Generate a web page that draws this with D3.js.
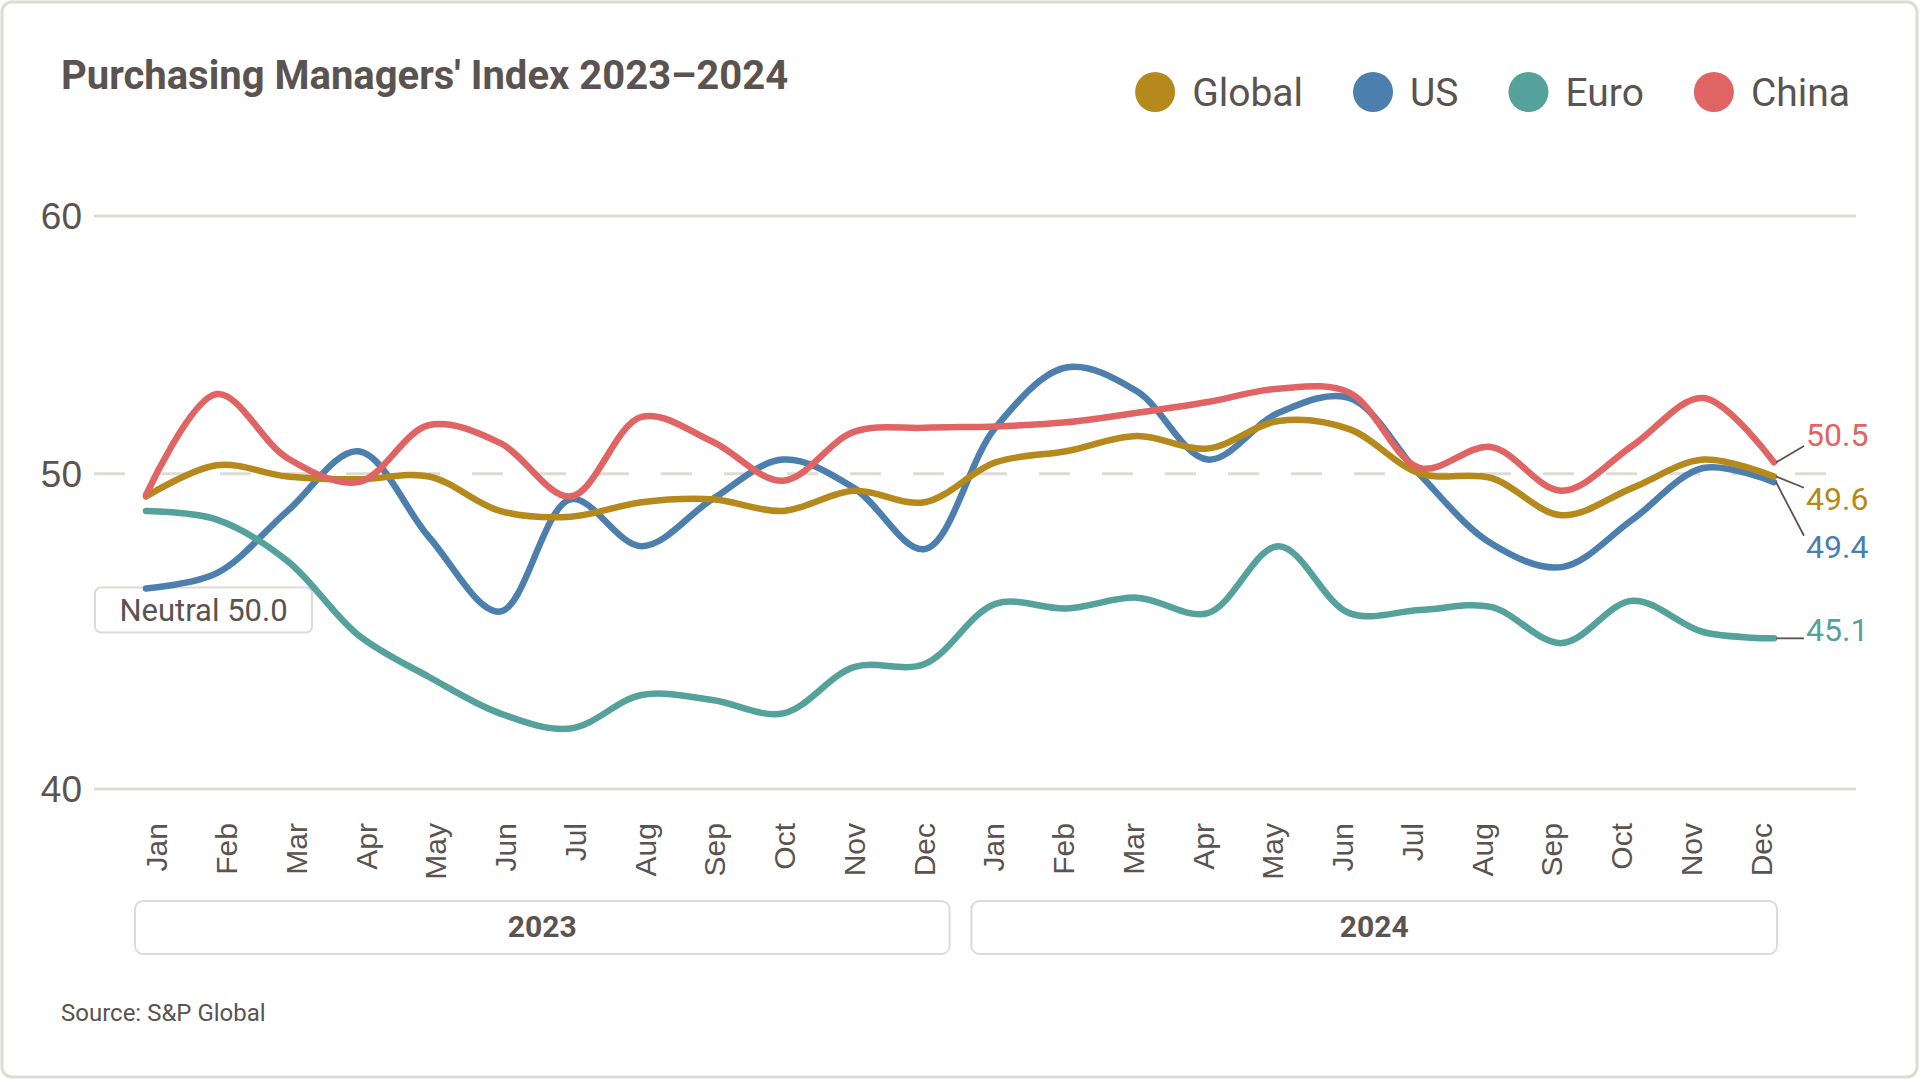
<!DOCTYPE html>
<html><head><meta charset="utf-8">
<script src="https://cdn.jsdelivr.net/npm/d3@7"></script>
<style>
body{margin:0;background:#fff}
svg{display:block}
text{font-family:Roboto, "Noto Sans", sans-serif; fill:#5b5350}
</style>
</head><body>
<svg id="chart" width="1920" height="1080"></svg>
<script>
// ---------- data ----------
const months = ["Jan","Feb","Mar","Apr","May","Jun","Jul","Aug","Sep","Oct","Nov","Dec",
                "Jan","Feb","Mar","Apr","May","Jun","Jul","Aug","Sep","Oct","Nov","Dec"];
const years = ["2023","2024"];
const seriesNames = ["Global","US","Euro","China"];
const seriesColors = ["#b5891c","#4c7fad","#55a19c","#e06464"];
const globalPMI = [49.2,50.3,49.9,49.8,49.9,48.7,48.5,49.0,49.1,48.7,49.4,49.0,
                   50.4,50.8,51.35,50.9,51.9,51.6,50.0,49.85,48.55,49.5,50.5,49.9];
const usPMI     = [46.1,46.6,48.7,50.8,47.8,45.35,49.1,47.5,49.1,50.5,49.5,47.4,
                   51.65,53.9,53.0,50.5,52.2,52.75,49.95,47.6,46.8,48.4,50.2,49.7];
const euroPMI   = [48.7,48.4,47.0,44.6,43.3,42.2,41.75,42.75,42.6,42.2,43.6,43.7,
                   45.6,45.45,45.8,45.3,47.5,45.3,45.4,45.5,44.35,45.7,44.7,44.5];
const chinaPMI  = [49.25,52.9,50.55,49.7,51.75,51.1,49.2,52.05,51.15,49.75,51.5,51.65,
                   51.7,51.85,52.2,52.6,53.1,52.95,50.2,50.95,49.4,51.0,52.75,50.4];
const endLabels = ["49.6","49.4","45.1","50.5"];
const endLabelAt = [49.12,47.48,44.79,51.39];
const yTicks = [40,50,60];
const neutralValue = 50;
const neutralText = "Neutral 50.0";
const titleText = "Purchasing Managers' Index 2023\u20132024";
const sourceText = "Source: S&P Global";

const seriesValues = [globalPMI, usPMI, euroPMI, chinaPMI];
const drawOrder = [1,0,2,3];

// ---------- layout ----------
const svg = d3.select("#chart");
const TEXT = "#5b5350", GRID = "#dedbd6";

svg.append("rect").attr("x",2).attr("y",2).attr("width",1915).attr("height",1075)
  .attr("rx",10).attr("fill","#fff").attr("stroke",GRID).attr("stroke-width",3);

const y = d3.scaleLog().domain([40,60]).range([789,216]);
const x = d3.scalePoint().domain(d3.range(months.length)).range([146,1774]);
const xl = d3.scaleBand().domain(d3.range(months.length)).range([122,1796]);

// title
svg.append("text").attr("x",61).attr("y",89)
  .style("font-size","40px").style("font-weight","bold").text(titleText);

// legend (right aligned to 1850)
const lg = svg.append("g");
let cx = 0;
const items = seriesNames.map((n,i)=>{
  const g = lg.append("g");
  g.append("circle").attr("cx",cx).attr("cy",92).attr("r",20).attr("fill",seriesColors[i]);
  const t = g.append("text").attr("x",cx+37).attr("y",92).attr("dy","0.36em")
    .style("font-size","39px").text(n);
  const w = t.node().getComputedTextLength();
  cx = cx + 37 + w + 70;
  return cx - 70;
});
lg.attr("transform",`translate(${1850 - items[items.length-1]},0)`);

// gridlines
const grid = svg.append("g");
yTicks.forEach(v=>{
  grid.append("line").attr("x1",94).attr("x2",1856).attr("y1",y(v)).attr("y2",y(v))
    .attr("stroke",GRID).attr("stroke-width",3)
    .attr("stroke-dasharray", v===neutralValue ? "31,32" : null);
  grid.append("text").attr("x",82).attr("y",y(v)).attr("dy","0.36em")
    .attr("text-anchor","end")
    .style("font-family","'Liberation Sans', Arial, sans-serif").style("font-size","37px")
    .text(v);
});

// neutral label box
const nb = svg.append("g");
nb.append("rect").attr("x",95).attr("y",587.5).attr("width",217).attr("height",45)
  .attr("rx",6).attr("fill","#fff").attr("stroke",GRID).attr("stroke-width",2);
nb.append("text").attr("x",95+217/2).attr("y",610).attr("dy","0.36em")
  .attr("text-anchor","middle").style("font-size","31px").text(neutralText);

// lines
const line = d3.line().x((d,i)=>x(i)).y(d=>y(d)).curve(d3.curveCatmullRom.alpha(0.5));
drawOrder.forEach(k=>{
  svg.append("path").datum(seriesValues[k]).attr("d",line)
    .attr("fill","none").attr("stroke",seriesColors[k]).attr("stroke-width",6.5)
    .attr("stroke-linecap","round").attr("stroke-linejoin","round");
});

// end labels
const last = months.length-1;
seriesValues.forEach((vals,k)=>{
  const py = y(vals[last]);
  const ly = y(endLabelAt[k]);
  const ey = Math.max(ly-11, Math.min(ly+11, py));
  svg.append("line").attr("x1",x(last)+2).attr("y1",py).attr("x2",1804).attr("y2",ey)
    .attr("stroke",TEXT).attr("stroke-width",1.8);
  svg.append("text").attr("x",1806).attr("y",ly).attr("dy","0.36em")
    .style("font-size","32px").style("fill",seriesColors[k]).text(endLabels[k]);
});

// month labels
months.forEach((m,i)=>{
  svg.append("text")
    .attr("transform",`translate(${xl(i)+xl.bandwidth()/2},823) rotate(-90)`)
    .attr("dy","0.35em").attr("text-anchor","end")
    .style("font-family","'Liberation Sans', Arial, sans-serif").style("font-size","30px")
    .text(m);
});

// year boxes
years.forEach((yr,j)=>{
  const i0 = j*12, i1 = j*12+11;
  const left = j===0 ? x(i0)-11 : x(i0)-24;
  const right = j===0 ? x(i1)+25 : x(i1)+3;
  svg.append("rect").attr("x",left).attr("y",901).attr("width",right-left).attr("height",53)
    .attr("rx",8).attr("fill","#fff").attr("stroke",GRID).attr("stroke-width",2);
  svg.append("text").attr("x",(left+right)/2).attr("y",937).attr("text-anchor","middle")
    .style("font-size","30px").style("font-weight","bold").text(yr);
});

// source
svg.append("text").attr("x",61).attr("y",1021).style("font-size","24px").text(sourceText);
</script>
</body></html>
